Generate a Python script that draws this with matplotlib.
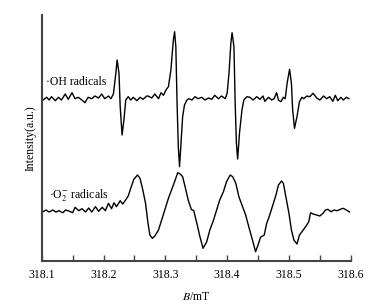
import matplotlib
matplotlib.use("Agg")
import matplotlib.pyplot as plt
from matplotlib.ticker import MultipleLocator

# magnetic field (mT) and intensity (a.u.)
oh_field = [318.102, 318.108, 318.112, 318.116, 318.122, 318.127, 318.132, 318.138, 318.143, 318.149,
            318.154, 318.159, 318.165, 318.170, 318.175, 318.181, 318.186, 318.192, 318.197, 318.202,
            318.208, 318.212, 318.216, 318.220, 318.222, 318.225, 318.227, 318.230, 318.233, 318.236,
            318.240, 318.244, 318.248, 318.254, 318.259, 318.264, 318.270, 318.272, 318.278, 318.283,
            318.289, 318.293, 318.297, 318.301, 318.305, 318.309, 318.313, 318.315, 318.317, 318.319,
            318.321, 318.323, 318.325, 318.328, 318.331, 318.335, 318.338, 318.343, 318.348, 318.353,
            318.359, 318.364, 318.370, 318.375, 318.380, 318.386, 318.391, 318.397, 318.400, 318.403,
            318.406, 318.408, 318.411, 318.413, 318.415, 318.417, 318.420, 318.424, 318.427, 318.432,
            318.437, 318.442, 318.448, 318.453, 318.458, 318.461, 318.467, 318.472, 318.476, 318.480,
            318.483, 318.487, 318.491, 318.494, 318.497, 318.501, 318.504, 318.506, 318.509, 318.513,
            318.517, 318.521, 318.524, 318.529, 318.534, 318.539, 318.545, 318.550, 318.556, 318.561,
            318.566, 318.571, 318.575, 318.579, 318.584, 318.588, 318.593, 318.597]
oh_int = [161, 163.7, 161, 164.3, 160.3, 163.7, 161, 167, 161.7, 168.3,
          162.3, 163.7, 161, 158.3, 163.7, 162.3, 165, 163, 167, 162.3,
          165, 162.3, 167, 188, 201, 188, 154.3, 126, 141, 161,
          164.3, 161, 163.7, 160.3, 163.7, 161.7, 165, 165, 163, 167,
          162.3, 168.3, 165.7, 171, 174.3, 191, 221, 229.3, 214.3, 158,
          114.3, 94.3, 114.3, 144.3, 156, 161, 162.3, 161, 164.3, 162.3,
          163.7, 161, 163, 161.7, 165.7, 162.3, 165, 162.3, 167.7, 187.7,
          217.7, 228.3, 214.3, 158, 117.7, 102, 128, 151, 161, 164.3,
          163.7, 161, 164.3, 161.7, 165, 159.7, 163.7, 161, 162.3, 168.3,
          161, 159.3, 163.7, 162.3, 177.7, 191.7, 177.7, 151, 132.7, 144.3,
          159.3, 163.7, 162.3, 165, 164.3, 167.7, 163, 161, 165, 162.3,
          164.3, 159.7, 165.7, 160.3, 163.7, 161, 163.7, 162.3]

o2_field = [318.102, 318.107, 318.112, 318.118, 318.123, 318.128, 318.134, 318.139, 318.145, 318.150,
            318.154, 318.160, 318.165, 318.171, 318.176, 318.181, 318.187, 318.192, 318.198, 318.203,
            318.208, 318.213, 318.217, 318.221, 318.227, 318.231, 318.235, 318.240, 318.244, 318.249,
            318.255, 318.259, 318.263, 318.268, 318.272, 318.275, 318.279, 318.283, 318.289, 318.294,
            318.300, 318.305, 318.310, 318.316, 318.320, 318.324, 318.328, 318.332, 318.337, 318.342,
            318.346, 318.351, 318.356, 318.361, 318.367, 318.372, 318.378, 318.383, 318.388, 318.394,
            318.399, 318.405, 318.409, 318.414, 318.419, 318.425, 318.430, 318.435, 318.441, 318.446,
            318.450, 318.454, 318.460, 318.464, 318.468, 318.474, 318.479, 318.483, 318.488, 318.491,
            318.495, 318.500, 318.504, 318.508, 318.513, 318.517, 318.521, 318.527, 318.532, 318.535,
            318.539, 318.545, 318.550, 318.555, 318.559, 318.563, 318.568, 318.573, 318.578, 318.583,
            318.588, 318.593, 318.598]
o2_int = [49.3, 51, 49, 51, 49, 50.3, 48.3, 51, 49.7, 48.3,
          53.7, 50.3, 52.3, 49, 53, 49, 54.3, 49.7, 53.7, 50.3,
          57.7, 52.3, 58.3, 54.3, 60.3, 57, 60.3, 65, 72.7, 81.7,
          86, 82.7, 72.7, 57.7, 37.7, 26, 22.7, 25, 31, 41,
          52.7, 62.7, 71, 81, 88.3, 87, 84.3, 74.3, 61, 51.7,
          50.3, 37.7, 24.3, 12.7, 19.3, 31, 41, 51, 61, 69.3,
          79.3, 86, 84.3, 77.7, 64.3, 54.3, 46, 34.3, 21, 9.3,
          16, 23.7, 26, 37.7, 44.3, 56, 66, 76, 80, 77.7,
          64.3, 47.7, 31, 21, 17, 26, 29.3, 34.3, 39.3, 48.3,
          47, 46, 45, 47.7, 51, 51.7, 49.3, 51, 50.3, 51.7,
          52.7, 51, 49]

plt.rcParams['font.family'] = ['Liberation Serif', 'DejaVu Serif']
plt.rcParams['mathtext.fontset'] = 'stix'

fig = plt.figure(figsize=(3.88, 3.06), dpi=100)
ax = fig.add_axes([0.1075, 0.147, 0.7965, 0.804])

ax.plot(oh_field, oh_int, color='black', linewidth=1.0)
ax.plot(o2_field, o2_int, color='black', linewidth=1.0)

ax.text(318.107, 179, '·OH radicals', fontsize=8.5, va='center', ha='left')
ax.text(318.112, 66, '·O$_2^{-}$ radicals', fontsize=8.5, va='center', ha='left')

ax.set_xlim(318.1, 318.6)
ax.set_ylim(0, 246)
ax.xaxis.set_minor_locator(MultipleLocator(0.05))
ax.set_xticks([318.1, 318.2, 318.3, 318.4, 318.5, 318.6])
ax.set_xticklabels(['318.1', '318.2', '318.3', '318.4', '318.5', '318.6'])
ax.set_yticks([])
ax.tick_params(axis='x', which='both', direction='in', length=4.5, width=1.0,
               color='#444444', labelsize=8.5, pad=6)

for side in ['top', 'right']:
    ax.spines[side].set_visible(False)
for side in ['left', 'bottom']:
    ax.spines[side].set_color('#444444')
    ax.spines[side].set_linewidth(1.5)

ax.set_xlabel('$B$/mT', fontsize=8.5, labelpad=7)
ax.set_ylabel('Intensity(a.u.)', fontsize=8.5, labelpad=4)

fig.savefig('out.png', dpi=100)
plt.close(fig)
